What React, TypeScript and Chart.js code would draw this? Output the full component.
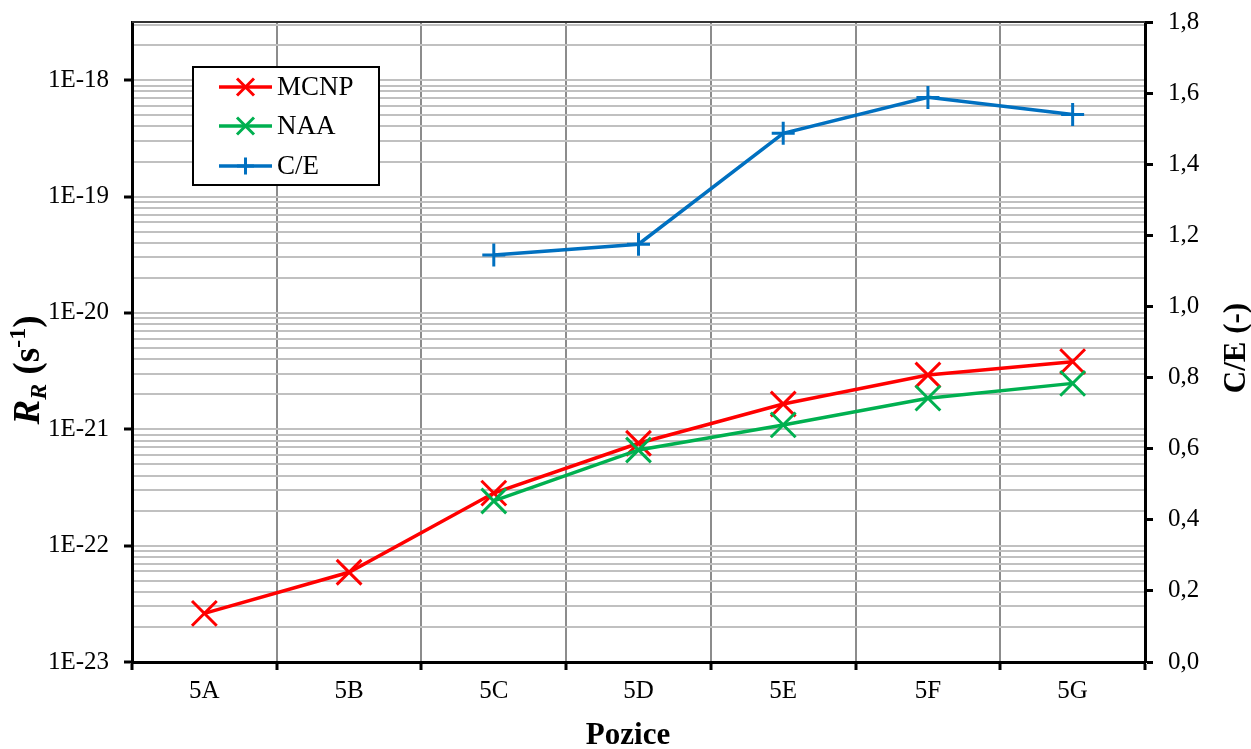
import React, { useEffect, useRef } from "react";
import { Chart, registerables } from "chart.js";

Chart.register(...registerables);

// Positions along the measurement channel
const categories = ["5A", "5B", "5C", "5D", "5E", "5F", "5G"];

// Reaction rates R_R (s^-1)
const mcnpValues = [2.62e-23, 5.9e-23, 2.83e-22, 7.58e-22, 1.65e-21, 2.93e-21, 3.81e-21];
const naaValues = [null, null, 2.42e-22, 6.64e-22, 1.09e-21, 1.85e-21, 2.48e-21];

// Calculated / experimental ratio
const ceValues = [null, null, 1.145, 1.175, 1.487, 1.588, 1.54];

// Left (log) axis: decades shown and range
const leftDecades = [-23, -22, -21, -20, -19, -18];
const leftMin = 1e-23;
const leftMax = 3.1623e-18;

// Right axis range
const rightMin = 0;
const rightMax = 1.8;
const rightStep = 0.2;

const FONT = "'Liberation Serif', 'Times New Roman', serif";

const isDecade = (v: number) => {
  const e = Math.log10(v);
  return Math.abs(e - Math.round(e)) < 1e-6;
};

// keep the plot area fixed: no extra room for overhanging labels
const noPadding = (scale: any) => {
  scale.paddingTop = 0;
  scale.paddingBottom = 0;
  scale.paddingLeft = 0;
  scale.paddingRight = 0;
};

const overlayPlugin = {
  id: "overlay",
  afterDatasetsDraw(chart: any) {
    const { ctx, chartArea } = chart;
    ctx.save();
    // top edge of the plot area
    ctx.strokeStyle = "#333333";
    ctx.lineWidth = 2;
    ctx.beginPath();
    ctx.moveTo(chartArea.left, chartArea.top);
    ctx.lineTo(chartArea.right, chartArea.top);
    ctx.stroke();

    // legend box
    const bx = 193, by = 67, bw = 186, bh = 118;
    ctx.fillStyle = "#ffffff";
    ctx.fillRect(bx, by, bw, bh);
    ctx.strokeStyle = "#000000";
    ctx.lineWidth = 2;
    ctx.strokeRect(bx, by, bw, bh);

    const rows = [87, 126, 166];
    chart.data.datasets.forEach((ds: any, i: number) => {
      const y = rows[i];
      ctx.strokeStyle = ds.borderColor;
      ctx.lineWidth = 3.5;
      ctx.beginPath();
      ctx.moveTo(219, y);
      ctx.lineTo(272, y);
      ctx.stroke();
      const cx = 245.5;
      const h = 8.5;
      ctx.lineWidth = 3;
      ctx.beginPath();
      if (ds.pointStyle === "crossRot") {
        ctx.moveTo(cx - h, y - h);
        ctx.lineTo(cx + h, y + h);
        ctx.moveTo(cx + h, y - h);
        ctx.lineTo(cx - h, y + h);
      } else {
        ctx.moveTo(cx - h, y);
        ctx.lineTo(cx + h, y);
        ctx.moveTo(cx, y - h);
        ctx.lineTo(cx, y + h);
      }
      ctx.stroke();
      ctx.fillStyle = "#000000";
      ctx.font = `27px ${FONT}`;
      ctx.textBaseline = "middle";
      ctx.textAlign = "left";
      ctx.fillText(ds.label, 277, y + 1);
    });
    ctx.restore();
  },
  afterDraw(chart: any) {
    const { ctx } = chart;
    ctx.save();
    ctx.fillStyle = "#000000";

    // bottom axis title
    ctx.font = `bold 31px ${FONT}`;
    ctx.textAlign = "center";
    ctx.textBaseline = "middle";
    ctx.fillText("Pozice", 628, 736);

    // left axis title: R_R (s^-1)
    const segs = [
      { t: "R", f: `italic bold 37px ${FONT}`, dy: 0 },
      { t: "R", f: `italic bold 24px ${FONT}`, dy: 7 },
      { t: " (s", f: `bold 37px ${FONT}`, dy: 0 },
      { t: "-1", f: `bold 24px ${FONT}`, dy: -14 },
      { t: ")", f: `bold 37px ${FONT}`, dy: 0 },
    ];
    let total = 0;
    const widths = segs.map((s) => {
      ctx.font = s.f;
      const w = ctx.measureText(s.t).width;
      total += w;
      return w;
    });
    ctx.translate(39, 370);
    ctx.rotate(-Math.PI / 2);
    ctx.textAlign = "left";
    ctx.textBaseline = "alphabetic";
    let x = -total / 2;
    segs.forEach((s, i) => {
      ctx.font = s.f;
      ctx.fillText(s.t, x, s.dy);
      x += widths[i];
    });
    ctx.restore();

    // right axis title
    ctx.save();
    ctx.fillStyle = "#000000";
    ctx.font = `bold 31px ${FONT}`;
    ctx.translate(1237, 348);
    ctx.rotate(-Math.PI / 2);
    ctx.textAlign = "center";
    ctx.textBaseline = "middle";
    ctx.fillText("C/E (-)", 0, 0);
    ctx.restore();
  },
};

export default function App() {
  const canvasRef = useRef<HTMLCanvasElement | null>(null);

  useEffect(() => {
    const canvas = canvasRef.current;
    if (!canvas) return;

    const tickFont = { family: FONT, size: 25 };

    const chart = new Chart(canvas, {
      type: "line",
      data: {
        labels: categories,
        datasets: [
          {
            label: "MCNP",
            data: mcnpValues,
            yAxisID: "yLeft",
            borderColor: "#FF0000",
            backgroundColor: "#FF0000",
            borderWidth: 3.5,
            pointStyle: "crossRot",
            pointRadius: 17.5,
            pointBorderWidth: 3,
            pointBorderColor: "#FF0000",
            order: 1,
          },
          {
            label: "NAA",
            data: naaValues,
            yAxisID: "yLeft",
            borderColor: "#00B050",
            backgroundColor: "#00B050",
            borderWidth: 3.5,
            pointStyle: "crossRot",
            pointRadius: 17.5,
            pointBorderWidth: 3,
            pointBorderColor: "#00B050",
            order: 0,
          },
          {
            label: "C/E",
            data: ceValues,
            yAxisID: "yRight",
            borderColor: "#0070C0",
            backgroundColor: "#0070C0",
            borderWidth: 3.5,
            pointStyle: "cross",
            pointRadius: 11.5,
            pointBorderWidth: 3,
            pointBorderColor: "#0070C0",
            order: 0,
          },
        ],
      } as any,
      options: {
        animation: false,
        responsive: false,
        devicePixelRatio: 1,
        layout: { padding: { top: 22, left: 0, right: 0, bottom: 0 } },
        plugins: {
          legend: { display: false },
          tooltip: { enabled: false },
        },
        elements: { line: { tension: 0 } },
        scales: {
          x: {
            type: "category",
            offset: true,
            grid: {
              offset: true,
              color: "#8c8c8c",
              lineWidth: 2,
              tickColor: "#000000",
              tickWidth: 3,
              tickLength: 8,
            },
            border: { color: "#000000", width: 3 },
            ticks: {
              font: tickFont,
              color: "#000000",
              padding: 6,
              maxRotation: 0,
              autoSkip: false,
            },
            afterFit: (scale: any) => {
              scale.height = 87;
              noPadding(scale);
            },
          },
          yLeft: {
            type: "logarithmic",
            position: "left",
            min: leftMin,
            max: leftMax,
            afterBuildTicks: (scale: any) => {
              const ticks: any[] = [];
              leftDecades.forEach((e) => {
                for (let m = 1; m <= 9; m++) {
                  const v = m * Math.pow(10, e);
                  if (v <= leftMax * 1.0001) ticks.push({ value: v, major: m === 1 });
                }
              });
              scale.ticks = ticks;
            },
            grid: {
              color: "#c0c0c0",
              lineWidth: 2,
              tickColor: (ctx: any) =>
                ctx.tick && isDecade(ctx.tick.value) ? "#000000" : "rgba(0,0,0,0)",
              tickWidth: 3,
              tickLength: 8,
            },
            border: { color: "#000000", width: 3 },
            ticks: {
              font: tickFont,
              color: "#000000",
              padding: 15,
              autoSkip: false,
              callback: (value: any) => {
                const v = Number(value);
                return isDecade(v) ? "1E" + Math.round(Math.log10(v)) : "";
              },
            },
            afterFit: (scale: any) => {
              scale.width = 132;
              noPadding(scale);
            },
          },
          yRight: {
            type: "linear",
            position: "right",
            min: rightMin,
            max: rightMax,
            grid: {
              drawOnChartArea: false,
              tickColor: "#000000",
              tickWidth: 3,
              tickLength: 8,
            },
            border: { color: "#000000", width: 3 },
            ticks: {
              stepSize: rightStep,
              font: tickFont,
              color: "#000000",
              padding: 15,
              callback: (value: any) => Number(value).toFixed(1).replace(".", ","),
            },
            afterFit: (scale: any) => {
              scale.width = 106;
              noPadding(scale);
            },
          },
        },
      } as any,
      plugins: [overlayPlugin],
    });

    return () => chart.destroy();
  }, []);

  return (
    <div style={{ position: "fixed", left: 0, top: 0, width: 1251, height: 749, background: "#ffffff" }}>
      <canvas ref={canvasRef} width={1251} height={749} style={{ display: "block" }} />
    </div>
  );
}
